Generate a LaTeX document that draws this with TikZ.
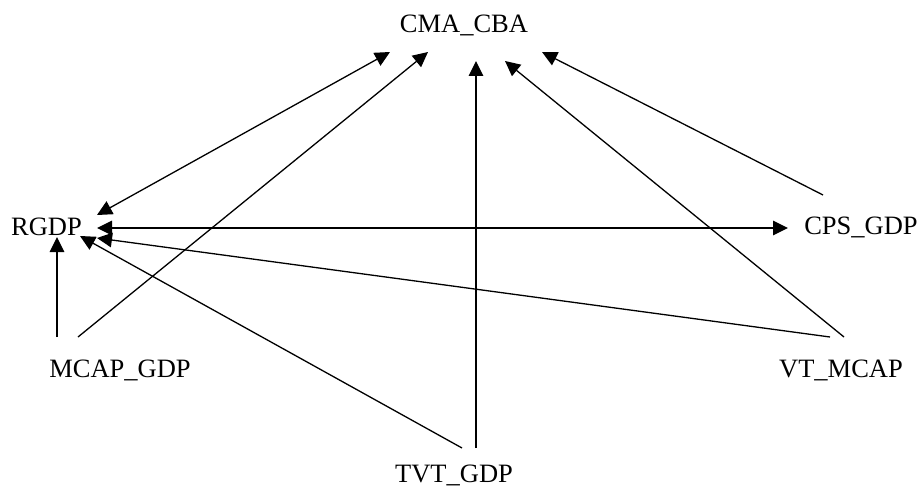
\documentclass[tikz,border=0pt]{standalone}
\usepackage{fontspec}
\setmainfont{Liberation Serif}
\usetikzlibrary{arrows.meta}
\begin{document}
\begin{tikzpicture}[x=1pt,y=-1pt,
  lbl/.style={anchor=base,inner sep=0pt,font=\fontsize{26.5}{30}\selectfont},
  arr/.style={line width=1.3pt,-{Triangle[length=15pt,width=14.5pt]}},
  darr/.style={line width=1.3pt,{Triangle[length=15pt,width=14.5pt]}-{Triangle[length=15pt,width=14.5pt]}}]
\useasboundingbox (0,0) rectangle (921,487);
\node[lbl] (cma) at (464,33) {CMA\_CBA};
\node[lbl] (rgdp) at (46.5,235) {RGDP};
\node[lbl] (cps) at (861,234) {CPS\_GDP};
\node[lbl] (mcap) at (120,377) {MCAP\_GDP};
\node[lbl] (tvt) at (454,482) {TVT\_GDP};
\node[lbl] (vt) at (841,377) {VT\_MCAP};
% edges
\draw[darr] ([shift={(50.5,-20)}]rgdp.base) -- ([shift={(-74,19)}]cma.base);
\draw[arr] ([shift={(-42,-40)}]mcap.base) -- ([shift={(-36,19)}]cma.base);
\draw[arr] ([shift={(22,-34)}]tvt.base) -- ([shift={(12,28)}]cma.base);
\draw[arr] ([shift={(3,-40)}]vt.base) -- ([shift={(41,28)}]cma.base);
\draw[arr] ([shift={(-38,-39)}]cps.base) -- ([shift={(78,19)}]cma.base);
\draw[darr] ([shift={(50.5,-7)}]rgdp.base) -- ([shift={(-73,-6)}]cps.base);
\draw[arr] ([shift={(-63,-40)}]mcap.base) -- ([shift={(10.5,2)}]rgdp.base);
\draw[arr] ([shift={(8,-34)}]tvt.base) -- ([shift={(33.5,1)}]rgdp.base);
\draw[arr] ([shift={(-11,-40)}]vt.base) -- ([shift={(50.5,3)}]rgdp.base);
\end{tikzpicture}
\end{document}
